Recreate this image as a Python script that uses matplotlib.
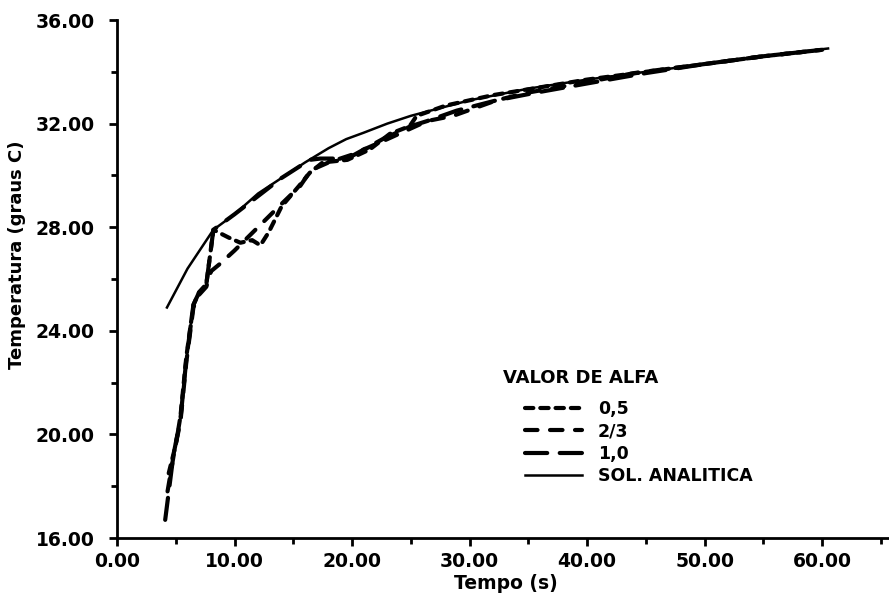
import numpy as np
import matplotlib
matplotlib.use('Agg')
import matplotlib.pyplot as plt
from matplotlib.ticker import MultipleLocator, FormatStrFormatter

# values
t_sol = [4.25, 6.0, 8.2, 10.0, 12.0, 14.0, 16.0, 18.0, 19.5, 21.0, 23.0, 25.0, 30.0, 35.0, 40.0, 45.0, 50.0, 55.0, 60.5]
T_sol = [24.9, 26.4, 27.9, 28.5, 29.3, 29.9, 30.5, 31.05, 31.4, 31.65, 32.0, 32.3, 32.9, 33.35, 33.7, 34.0, 34.3, 34.6, 34.9]

t_05 = [4.4, 5.0, 5.4, 5.9, 6.5, 7.0, 7.6, 8.0, 8.2, 9.5, 10.5, 11.5, 12.2, 12.9, 14.0, 15.5, 16.4,
        17.5, 19.6, 21.5, 23.2, 24.9, 25.5, 28.0, 32.0, 36.0, 40.0, 45.0, 50.0, 55.0, 60.0]
T_05 = [18.5, 19.6, 20.7, 23.0, 25.0, 25.5, 25.8, 27.2, 27.9, 27.6, 27.4, 27.5, 27.3, 27.8, 28.8, 29.6, 30.1,
        30.5, 30.6, 31.0, 31.6, 31.9, 32.3, 32.7, 33.1, 33.4, 33.7, 34.0, 34.3, 34.6, 34.85]

t_23 = [4.3, 4.9, 5.4, 5.9, 6.5, 7.0, 7.6, 8.0, 8.8, 10.0, 12.0, 14.0, 15.6, 16.5, 18.0, 20.0, 23.0,
        26.4, 28.6, 32.3, 35.0, 40.0, 44.0, 50.0, 55.0, 60.0]
T_23 = [17.8, 19.4, 20.5, 22.8, 24.9, 25.4, 25.7, 26.3, 26.6, 27.1, 28.0, 28.9, 29.6, 30.2, 30.5, 30.8, 31.4,
        32.1, 32.3, 32.9, 33.2, 33.6, 33.95, 34.3, 34.6, 34.85]

t_10 = [4.1, 4.8, 5.4, 5.9, 6.5, 7.0, 7.6, 8.0, 8.2, 10.0, 12.0, 14.0, 16.4, 17.3, 19.6, 22.6, 25.0,
        26.4, 28.9, 32.3, 35.7, 40.0, 45.0, 50.0, 55.0, 60.0]
T_10 = [16.7, 19.2, 20.6, 22.9, 25.0, 25.5, 25.8, 27.2, 27.9, 28.5, 29.2, 29.9, 30.6, 30.65, 30.65, 31.4, 31.9,
        32.1, 32.5, 32.9, 33.2, 33.55, 33.95, 34.3, 34.6, 34.85]

legend_title = 'VALOR DE ALFA'
legend_labels = ['0,5', '2/3', '1,0', 'SOL. ANALITICA']

plt.rcParams['font.family'] = 'DejaVu Sans'
plt.rcParams['lines.scale_dashes'] = False

fig = plt.figure(figsize=(8.89, 6.0), dpi=100)
ax = fig.add_axes([117/889, 62/600, 771/889, 518/600])

l1, = ax.plot(t_05, T_05, color='black', lw=3.0, dashes=(6, 5), dash_capstyle='round')
l2, = ax.plot(t_23, T_23, color='black', lw=3.0, dashes=(9, 9), dash_capstyle='round')
l3, = ax.plot(t_10, T_10, color='black', lw=3.0, dashes=(16, 9), dash_capstyle='round')
l4, = ax.plot(t_sol, T_sol, color='black', lw=1.8)

ax.set_xlim(0, 65.6)
ax.set_ylim(16, 36)
ax.spines['top'].set_visible(False)
ax.spines['right'].set_visible(False)
ax.spines['left'].set_linewidth(2.0)
ax.spines['bottom'].set_linewidth(2.0)

ax.xaxis.set_major_locator(MultipleLocator(10))
ax.xaxis.set_minor_locator(MultipleLocator(5))
ax.yaxis.set_major_locator(MultipleLocator(4))
ax.yaxis.set_minor_locator(MultipleLocator(2))
ax.xaxis.set_major_formatter(FormatStrFormatter('%.2f'))
ax.yaxis.set_major_formatter(FormatStrFormatter('%.2f'))
ax.tick_params(axis='both', which='major', direction='out', length=6, width=2, labelsize=13.5)
ax.tick_params(axis='both', which='minor', direction='out', length=4, width=2)
ax.tick_params(axis='x', which='major', pad=4)
ax.tick_params(axis='y', which='major', pad=10)
for lab in ax.get_xticklabels() + ax.get_yticklabels():
    lab.set_fontweight('bold')

ax.set_xlabel('Tempo (s)', fontsize=13.5, fontweight='bold')
ax.xaxis.set_label_coords(0.505, -0.07)
ax.set_ylabel('Temperatura (graus C)', fontsize=13, fontweight='bold')
ax.yaxis.set_label_coords(-0.118, 0.546)

fig.text(503/889, 1 - 378/600, legend_title, fontsize=13, fontweight='bold', ha='left', va='center')
leg = ax.legend([l1, l2, l3, l4], legend_labels, frameon=False,
                loc='upper left', bbox_to_anchor=(525/889, 1 - 400/600), bbox_transform=fig.transFigure,
                prop={'size': 12.5, 'weight': 'bold'},
                handlelength=3.3, handletextpad=0.9, labelspacing=0.25,
                borderpad=0, borderaxespad=0)

fig.savefig('out.png', dpi=100)
